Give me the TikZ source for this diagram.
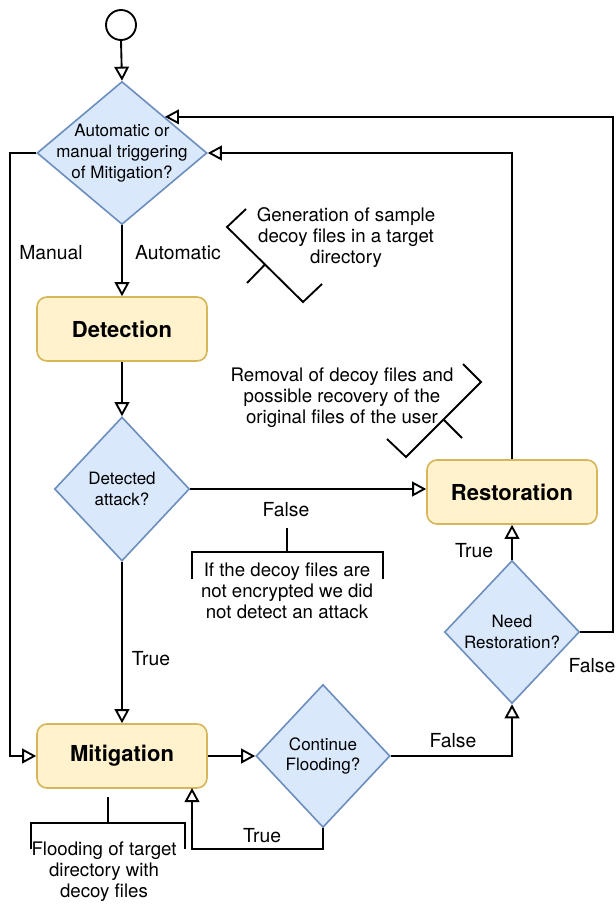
\documentclass[tikz,border=0pt]{standalone}
\usepackage{fontspec}
\setmainfont{TeX Gyre Heros}
\usetikzlibrary{shapes.geometric,arrows.meta}
\definecolor{dfill}{HTML}{DAE8FC}
\definecolor{dline}{HTML}{6C8EBF}
\definecolor{bfill}{HTML}{FFF2CC}
\definecolor{bline}{HTML}{D6B656}
\tikzset{
  dia/.style={diamond, draw=dline, fill=dfill, line width=1.2pt, inner sep=0pt},
  dtext/.style={align=center, inner sep=0pt, font=\fontsize{12.75}{15.5}\selectfont},
  box/.style={rectangle, rounded corners=7.5pt, draw=bline, fill=bfill, line width=1.2pt,
    minimum width=127.5pt, minimum height=48pt, inner sep=0pt,
    font=\fontsize{16.5}{19}\selectfont\bfseries},
  lab/.style={inner sep=0pt, font=\fontsize{14.5}{17}\selectfont},
  ann/.style={align=center, inner sep=0pt, font=\fontsize{14}{15.75}\selectfont},
  conn/.style={line width=1.4pt, -{Triangle[open, length=10.5pt, width=11pt]}},
  bracket/.style={line width=1.4pt},
}
\begin{document}
\begin{tikzpicture}[x=0.75pt,y=-0.75pt]
\fill[white] (0,0) rectangle (616,905);
\path[use as bounding box] (0,0) rectangle (616,905);

% nodes
\node[circle, draw, line width=1.4pt, minimum size=22.5pt, inner sep=0pt] (c0) at (121,25) {};
\node[dia, minimum width=127.5pt, minimum height=107.25pt] (d1) at (122,153) {};
\node[dtext] (d1t) at (d1.center) {Automatic or\\manual triggering\\of Mitigation?};
\node[box] (det) at (122,329) {Detection};
\node[dia, minimum width=101.25pt, minimum height=108pt] (d2) at (122,489) {};
\node[dtext] (d2t) at (d2.center) {Detected\\attack?};
\node[box] (rest) at (512,492) {Restoration};
\node[box] (mit) at (122,756) {Mitigation};
\node[dia, minimum width=100.5pt, minimum height=107.25pt] (d3) at (323,756) {};
\node[dtext] (d3t) at (d3.center) {Continue\\Flooding?};
\node[dia, minimum width=101.25pt, minimum height=107.25pt] (d4) at (512,632) {};
\node[dtext] (d4t) at (d4.center) {Need\\Restoration?};

% helper coordinates
\coordinate (mleft) at (10,153);
\coordinate (rright) at (613,0);
\coordinate (tloop) at (192,849);
\coordinate (mitb) at (192,788);

% connectors
\draw[conn] (c0.south) -- (d1.north);
\draw[conn] (d1.south) -- (det.north);
\draw[conn] (det.south) -- (d2.north);
\draw[conn] (d2.east) -- (d2.east -| rest.west);
\draw[conn] (d2.south) -- (mit.north);
\draw[conn] (d1.west) -- (mleft) |- (mit.west);
\draw[conn] (mit.east) -- (mit.east -| d3.west);
\draw[conn] (d3.south) |- (tloop) -- (mitb);
\draw[conn] (d3.east) -| (d4.south);
\draw[conn] (d4.north) -- (rest.south);
\draw[conn] (d4.east) -- (d4.east -| rright) |- (d1.north east);
\draw[conn] (rest.north) |- (d1.east);

% labels
\node[lab] (lauto) at (178,253) {Automatic};
\node[lab] (lman) at (51,253) {Manual};
\node[lab] (lf1) at (286,510) {False};
\node[lab] (lt1) at (151,659) {True};
\node[lab] (lt2) at (262,836) {True};
\node[lab] (lf2) at (453,741) {False};
\node[lab] (lt3) at (474,551) {True};
\node[lab] (lf3) at (592,666) {False};

% annotations
\node[ann] (a1) at (346,238) {Generation of sample\\decoy files in a target\\directory};
\draw[bracket] (246,209) -- (227,227) -- (303,302) -- (322,284);
\draw[bracket] (265,264.5) -- (247,283);

\node[ann] (a2) at (342,398) {Removal of decoy files and\\possible recovery of the\\original files of the user};
\draw[bracket] (463,364) -- (481,382) -- (406,457) -- (387,439);
\draw[bracket] (443.5,419.5) -- (462,438);

\node[ann] (a3) at (104,872) {Flooding of target\\directory with\\decoy files};
\draw[bracket] (108,797) -- (108,823);
\draw[bracket] (31,849) -- (31,823) -- (185,823) -- (185,849);

\node[ann] (a4) at (287,591) {If the decoy files are\\not encrypted we did\\not detect an attack};
\draw[bracket] (287,528) -- (287,552);
\draw[bracket] (192,579) -- (192,552) -- (383,552) -- (383,579);
\end{tikzpicture}
\end{document}
